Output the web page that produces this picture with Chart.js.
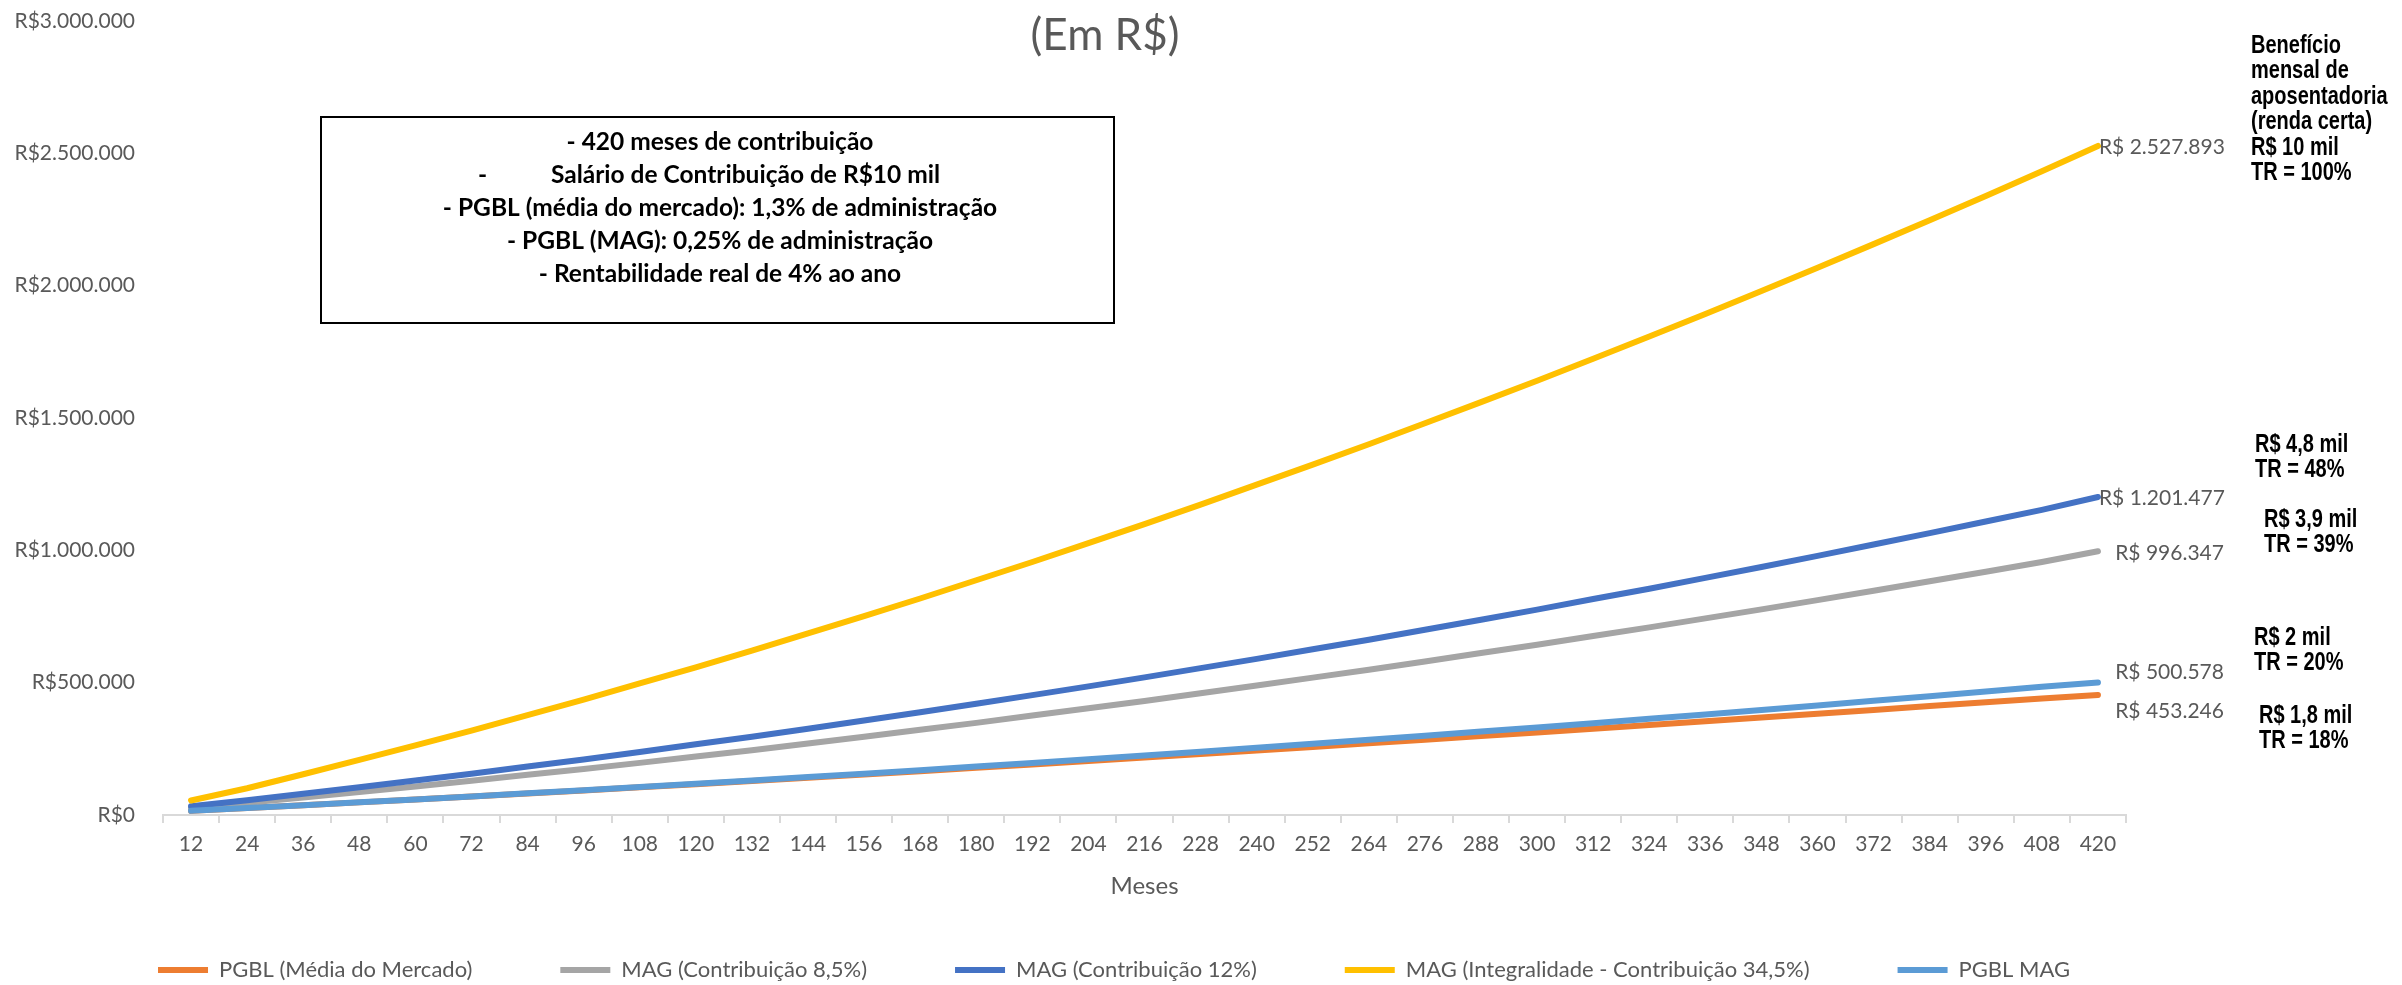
<!DOCTYPE html>
<html lang="pt-BR">
<head>
<meta charset="utf-8">
<title>Acumulação (Em R$)</title>
<script src="https://cdn.jsdelivr.net/npm/chart.js@4.4.1/dist/chart.umd.min.js"></script>
<style>
  html, body { margin: 0; padding: 0; background: #fff; }
  canvas { display: block; }
</style>
</head>
<body>
<canvas id="grafico" width="2402" height="985"></canvas>
<script>
// meses de contribuição (eixo x)
var meses = [12, 24, 36, 48, 60, 72, 84, 96, 108, 120, 132, 144, 156, 168, 180, 192, 204, 216,
  228, 240, 252, 264, 276, 288, 300, 312, 324, 336, 348, 360, 372, 384, 396, 408, 420];

// saldo acumulado por série (R$)
var pgblMercado = [16000, 26500, 37000, 47700, 58700, 69800, 81200, 92700, 104400, 116300, 128300,
  140600, 152900, 165400, 178100, 190900, 203900, 217000, 230200, 243600, 257000, 270700, 284300,
  298100, 312000, 326000, 340100, 354300, 368400, 382800, 397100, 411500, 426100, 440600, 453246];
var mag85 = [27000, 46000, 66000, 87000, 108000, 129000, 152000, 174000, 197000, 221000, 245000,
  270000, 296000, 322000, 348000, 376000, 403000, 431000, 460000, 489000, 519000, 549000, 580000,
  612000, 643000, 676000, 709000, 743000, 777000, 812000, 847000, 883000, 919000, 956000, 996347];
var mag12 = [33000, 56000, 80000, 105000, 130000, 156000, 183000, 210000, 238000, 267000, 296000,
  326000, 357000, 388000, 420000, 453000, 486000, 520000, 555000, 590000, 626000, 662000, 700000,
  738000, 776000, 816000, 855000, 896000, 937000, 979000, 1022000, 1065000, 1109000, 1153000, 1201477];
var magIntegral = [55000, 101000, 154000, 208000, 263000, 319000, 377000, 436000, 497000, 558000,
  621000, 686000, 751000, 818000, 887000, 956000, 1027000, 1099000, 1173000, 1248000, 1324000,
  1401000, 1480000, 1560000, 1641000, 1724000, 1808000, 1893000, 1980000, 2068000, 2157000,
  2247000, 2339000, 2432000, 2527893];
var pgblMag = [16100, 26500, 37100, 47900, 59000, 70300, 81900, 93700, 105700, 118000, 130500,
  143300, 156300, 169500, 183000, 196700, 210700, 224900, 239300, 254000, 268900, 284100, 299500,
  315100, 331000, 347100, 363500, 380100, 396900, 414000, 431300, 448900, 466700, 484700, 500578];

var nomes = ['PGBL (Média do Mercado)', 'MAG (Contribuição 8,5%)', 'MAG (Contribuição 12%)',
  'MAG (Integralidade - Contribuição 34,5%)', 'PGBL MAG'];
var cores = ['#ED7D31', '#A5A5A5', '#4472C4', '#FFC000', '#5B9BD5'];

// texto da caixa e notas da direita
var caixaTexto = ['- 420 meses de contribuição', 'Salário de Contribuição de R$10 mil',
  '- PGBL (média do mercado): 1,3% de administração', '- PGBL (MAG): 0,25% de administração',
  '- Rentabilidade real de 4% ao ano'];
var notas = [
  { linhas: ['Benefício', 'mensal de', 'aposentadoria', '(renda certa)', 'R$ 10 mil', 'TR = 100%'], x: 2251, y: 46 },
  { linhas: ['R$ 4,8 mil', 'TR = 48%'], x: 2255, y: 445 },
  { linhas: ['R$ 3,9 mil', 'TR = 39%'], x: 2264, y: 520 },
  { linhas: ['R$ 2 mil', 'TR = 20%'], x: 2254, y: 638 },
  { linhas: ['R$ 1,8 mil', 'TR = 18%'], x: 2259, y: 716 }
];

var FONTE = 'Lato, "Open Sans", sans-serif';
var CINZA = '#595959';

// formata número no padrão brasileiro (1.234.567)
function formataBR(v) {
  return Math.round(v).toString().replace(/\B(?=(\d{3})+(?!\d))/g, '.');
}

// desenha título, caixa de premissas, rótulos finais e notas
var anotacoes = {
  id: 'anotacoes',
  afterDatasetsDraw: function (chart) {
    var ctx = chart.ctx;
    ctx.save();

    // título
    ctx.fillStyle = CINZA;
    ctx.font = '44px ' + FONTE;
    ctx.textAlign = 'center';
    ctx.textBaseline = 'middle';
    ctx.fillText('(Em R$)', 1105, 36);

    // caixa de premissas
    ctx.strokeStyle = '#000';
    ctx.lineWidth = 2;
    ctx.strokeRect(321, 117, 793, 206);
    ctx.fillStyle = '#000';
    ctx.font = 'bold 24.5px ' + FONTE;
    var ys = [142, 175, 208, 241, 274];
    for (var i = 0; i < caixaTexto.length; i++) {
      if (i === 1) {
        ctx.textAlign = 'left';
        ctx.fillText('-', 478, ys[i]);
        ctx.fillText(caixaTexto[i], 551, ys[i]);
        ctx.textAlign = 'center';
      } else {
        ctx.fillText(caixaTexto[i], 720, ys[i]);
      }
    }

    // rótulo do último ponto de cada série
    ctx.font = '21px ' + FONTE;
    ctx.fillStyle = CINZA;
    var ajustes = [
      { alinha: 'right', dx: 126, dy: 16 },
      { alinha: 'right', dx: 126, dy: 2 },
      { alinha: 'left', dx: 1, dy: 1 },
      { alinha: 'left', dx: 1, dy: 1 },
      { alinha: 'right', dx: 126, dy: -10 }
    ];
    chart.data.datasets.forEach(function (ds, idx) {
      var meta = chart.getDatasetMeta(idx);
      var p = meta.data[meta.data.length - 1];
      var a = ajustes[idx];
      ctx.textAlign = a.alinha;
      ctx.fillText('R$ ' + formataBR(ds.data[ds.data.length - 1]), p.x + a.dx, p.y + a.dy);
    });

    // notas de benefício (fonte estreita: Liberation Sans comprimida)
    ctx.fillStyle = '#000';
    ctx.textAlign = 'left';
    ctx.font = 'bold 25px "Liberation Sans", Arial, sans-serif';
    notas.forEach(function (n) {
      n.linhas.forEach(function (t, j) {
        ctx.save();
        ctx.translate(n.x, n.y + j * 25.5);
        ctx.scale(0.8, 1);
        ctx.fillText(t, 0, 0);
        ctx.restore();
      });
    });

    ctx.restore();
  }
};

var ctx = document.getElementById('grafico').getContext('2d');
var series = [pgblMercado, mag85, mag12, magIntegral, pgblMag];
var ordem = [5, 4, 3, 2, 1]; // PGBL MAG por cima

new Chart(ctx, {
  type: 'line',
  data: {
    labels: meses,
    datasets: series.map(function (s, i) {
      return {
        label: nomes[i],
        data: s,
        borderColor: cores[i],
        backgroundColor: cores[i],
        borderWidth: 6,
        pointBorderWidth: 6,
        borderCapStyle: 'round',
        pointRadius: 0,
        tension: 0,
        fill: false,
        order: ordem[i]
      };
    })
  },
  options: {
    responsive: false,
    animation: false,
    devicePixelRatio: 1,
    layout: { padding: { left: 0, right: 174, top: 21, bottom: -6 } },
    plugins: {
      title: { display: false },
      tooltip: { enabled: false },
      legend: {
        display: true,
        position: 'bottom',
        labels: {
          usePointStyle: true,
          pointStyle: 'line',
          pointStyleWidth: 50,
          padding: 88,
          color: CINZA,
          font: { family: FONTE, size: 22 },
          sort: function (a, b) { return a.datasetIndex - b.datasetIndex; }
        }
      }
    },
    scales: {
      x: {
        offset: true,
        grid: { display: true, offset: true, drawOnChartArea: false, drawTicks: true, tickLength: 8, color: '#D9D9D9', lineWidth: 2 },
        border: { display: true, color: '#D9D9D9', width: 2 },
        ticks: { autoSkip: false, maxRotation: 0, padding: 9, color: CINZA, font: { family: FONTE, size: 21 } },
        title: { display: true, text: 'Meses', color: CINZA, font: { family: FONTE, size: 24 }, padding: { top: 0, bottom: -30 } },
        afterFit: function (s) {
          s.height = s.chart.height - 815 + 6 - s.chart.legend.height;
        }
      },
      y: {
        min: 0,
        max: 3000000,
        // marcas invisíveis só para afastar os rótulos do eixo
        grid: { display: true, drawOnChartArea: false, drawTicks: true, tickLength: 28, color: 'rgba(0,0,0,0)' },
        border: { display: false },
        ticks: {
          stepSize: 500000,
          padding: 0,
          color: CINZA,
          font: { family: FONTE, size: 21 },
          callback: function (v) { return 'R$' + formataBR(v); }
        },
        afterFit: function (s) { s.width = 163; }
      },
      y2: {
        position: 'right',
        display: true,
        grid: { display: false, drawTicks: false },
        border: { display: false },
        ticks: { display: false },
        afterFit: function (s) { s.width = 102; }
      }
    }
  },
  plugins: [anotacoes]
});
</script>
</body>
</html>
